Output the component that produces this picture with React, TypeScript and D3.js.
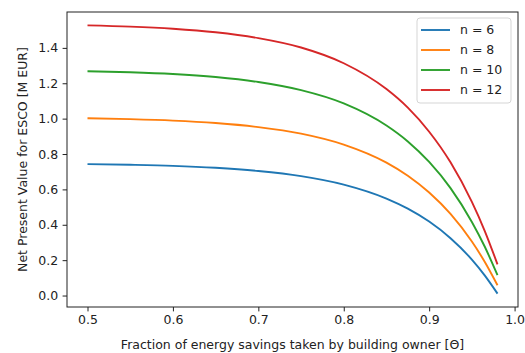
import React, { useEffect, useRef } from "react";
import * as d3 from "d3";

const theta = [0.5, 0.55, 0.6, 0.65, 0.7, 0.75, 0.8, 0.85, 0.875, 0.9, 0.925, 0.95, 0.965, 0.98];

const npvN6 = [0.743, 0.739, 0.733, 0.722, 0.704, 0.675, 0.627, 0.548, 0.491, 0.418, 0.324, 0.203, 0.114, 0.011];
const npvN8 = [1.002, 0.997, 0.989, 0.975, 0.952, 0.915, 0.853, 0.751, 0.677, 0.582, 0.461, 0.305, 0.191, 0.058];
const npvN10 = [1.268, 1.262, 1.252, 1.235, 1.207, 1.161, 1.086, 0.961, 0.871, 0.755, 0.607, 0.416, 0.277, 0.115];
const npvN12 = [1.527, 1.52, 1.508, 1.488, 1.455, 1.402, 1.313, 1.167, 1.062, 0.926, 0.753, 0.529, 0.366, 0.176];

const seriesLabels = ["n = 6", "n = 8", "n = 10", "n = 12"];
const seriesColors = ["#1f77b4", "#ff7f0e", "#2ca02c", "#d62728"];
const xTicks = [0.5, 0.6, 0.7, 0.8, 0.9, 1.0];
const yTicks = [0.0, 0.2, 0.4, 0.6, 0.8, 1.0, 1.2, 1.4];

const W = 525;
const H = 353;
const margin = { top: 12, right: 7, bottom: 46, left: 67 };
const FONT = "DejaVu Sans, sans-serif";

export default function App() {
  const ref = useRef<SVGSVGElement>(null);

  useEffect(() => {
    document.body.style.margin = "0";
    if (!ref.current) return;
    const svg = d3.select(ref.current);
    svg.selectAll("*").remove();

    const series = [npvN6, npvN8, npvN10, npvN12];
    const left = margin.left;
    const right = W - margin.right;
    const top = margin.top;
    const bottom = H - margin.bottom;

    // matplotlib style 5% margins
    const xMin = d3.min(theta) as number;
    const xMax = d3.max(theta) as number;
    const xPad = (xMax - xMin) * 0.05;
    const allY = series.flat();
    const yMin = d3.min(allY) as number;
    const yMax = d3.max(allY) as number;
    const yPad = (yMax - yMin) * 0.05;

    const x = d3.scaleLinear().domain([xMin - xPad, xMax + xPad]).range([left, right]);
    const y = d3.scaleLinear().domain([yMin - yPad, yMax + yPad]).range([bottom, top]);

    svg.append("rect").attr("width", W).attr("height", H).attr("fill", "#fff");

    const line = d3
      .line<number>()
      .x((_, i) => x(theta[i]))
      .y((d) => y(d))
      .curve(d3.curveMonotoneX);

    series.forEach((s, i) => {
      svg
        .append("path")
        .datum(s)
        .attr("fill", "none")
        .attr("stroke", seriesColors[i])
        .attr("stroke-width", 1.9)
        .attr("d", line);
    });

    // frame
    svg
      .append("rect")
      .attr("x", left)
      .attr("y", top)
      .attr("width", right - left)
      .attr("height", bottom - top)
      .attr("fill", "none")
      .attr("stroke", "#222")
      .attr("stroke-width", 1);

    // x axis
    const xAxis = svg
      .append("g")
      .attr("transform", `translate(0,${bottom})`)
      .call(
        d3
          .axisBottom(x)
          .tickValues(xTicks)
          .tickSize(4.4)
          .tickPadding(4)
          .tickFormat((d) => d3.format(".1f")(d as number))
      );
    xAxis.select(".domain").remove();
    xAxis.selectAll("line").attr("stroke", "#222");
    xAxis.selectAll("text").attr("fill", "#222").style("font-size", "12.5px").style("font-family", FONT);

    // y axis
    const yAxis = svg
      .append("g")
      .attr("transform", `translate(${left},0)`)
      .call(
        d3
          .axisLeft(y)
          .tickValues(yTicks)
          .tickSize(4.4)
          .tickPadding(4.4)
          .tickFormat((d) => d3.format(".1f")(d as number))
      );
    yAxis.select(".domain").remove();
    yAxis.selectAll("line").attr("stroke", "#222");
    yAxis.selectAll("text").attr("fill", "#222").style("font-size", "12.5px").style("font-family", FONT);

    svg
      .append("text")
      .attr("x", (left + right) / 2)
      .attr("y", 349)
      .attr("text-anchor", "middle")
      .attr("fill", "#222")
      .style("font-size", "12.5px")
      .style("font-family", FONT)
      .text("Fraction of energy savings taken by building owner [Θ]");

    svg
      .append("text")
      .attr("transform", `translate(27,${(top + bottom) / 2}) rotate(-90)`)
      .attr("text-anchor", "middle")
      .attr("fill", "#222")
      .style("font-size", "12.5px")
      .style("font-family", FONT)
      .text("Net Present Value for ESCO [M EUR]");

    // legend
    const lg = svg.append("g");
    lg.append("rect")
      .attr("x", 417)
      .attr("y", 18)
      .attr("width", 94)
      .attr("height", 85)
      .attr("rx", 3)
      .attr("fill", "#fff")
      .attr("fill-opacity", 0.8)
      .attr("stroke", "#d5d5d5")
      .attr("stroke-width", 1);
    seriesLabels.forEach((lab, i) => {
      const ly = 30 + i * 20;
      lg.append("line")
        .attr("x1", 421)
        .attr("x2", 450)
        .attr("y1", ly)
        .attr("y2", ly)
        .attr("stroke", seriesColors[i])
        .attr("stroke-width", 1.9);
      lg.append("text")
        .attr("x", 460)
        .attr("y", ly)
        .attr("dy", "0.35em")
        .attr("fill", "#222")
        .style("font-size", "12.5px")
        .style("font-family", FONT)
        .text(lab);
    });
  }, []);

  return <svg ref={ref} width={W} height={H} style={{ display: "block" }} />;
}
